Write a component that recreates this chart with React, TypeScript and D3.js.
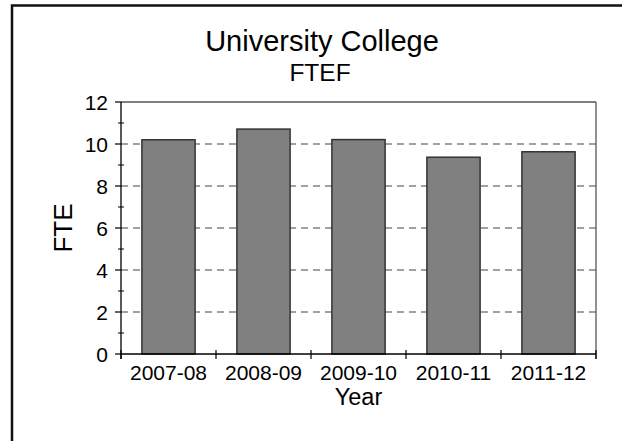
import React from "react";
import * as d3 from "d3";

const categories = ["2007-08", "2008-09", "2009-10", "2010-11", "2011-12"];
const values = [10.2, 10.71, 10.21, 9.37, 9.63];
const yTicks = [0, 2, 4, 6, 8, 10, 12];
const yMinorTicks = [1, 3, 5, 7, 9, 11];
const titleLines = ["University College", "FTEF"];
const xLabel = "Year";
const yLabel = "FTE";

const W = 622;
const H = 441;
const left = 121;
const right = 596;
const top = 102;
const bottom = 354;
const font = "Arial, 'Liberation Sans', Helvetica, sans-serif";

export default function App() {
  const x = d3
    .scaleBand<string>()
    .domain(categories)
    .range([left, right])
    .paddingInner(0.44)
    .paddingOuter(0.22);
  const y = d3.scaleLinear().domain([0, 12]).range([bottom, top]);
  const step = x.step();
  const boundaries = categories.map((c) => (x(c) as number) - (step * 0.44) / 2);
  boundaries.push(right);

  return (
    <svg
      width={W}
      height={H}
      style={{ position: "absolute", left: 0, top: 0, background: "#fff" }}
      fontFamily={font}
    >
      <rect x={0} y={0} width={W} height={H} fill="#fff" />
      {/* outer border */}
      <rect x={12} y={5.5} width={W + 20} height={H + 20} fill="none" stroke="#111" strokeWidth={2.5} />

      {/* title */}
      <text x={322} y={51} textAnchor="middle" fontSize={29} fill="#000">
        {titleLines[0]}
      </text>
      <text x={320} y={81} textAnchor="middle" fontSize={24.5} fill="#000">
        {titleLines[1]}
      </text>

      {/* gridlines */}
      {yTicks
        .filter((t) => t > 0 && t < 12)
        .map((t) => (
          <line
            key={"g" + t}
            x1={left}
            x2={right}
            y1={y(t)}
            y2={y(t)}
            stroke="#444"
            strokeWidth={1.2}
            strokeDasharray="7,5"
          />
        ))}

      {/* frame top/right */}
      <line x1={left} x2={right} y1={top} y2={top} stroke="#555" strokeWidth={1.3} />
      <line x1={right} x2={right} y1={top} y2={bottom + 5} stroke="#555" strokeWidth={1.3} />

      {/* bars */}
      {categories.map((c, i) => (
        <rect
          key={c}
          x={x(c)}
          y={y(values[i])}
          width={x.bandwidth()}
          height={y(0) - y(values[i])}
          fill="#808080"
          stroke="#333"
          strokeWidth={1.5}
        />
      ))}

      {/* y axis */}
      <line x1={left} x2={left} y1={top} y2={bottom + 5} stroke="#000" strokeWidth={1.3} />
      {yTicks.map((t) => (
        <g key={"y" + t}>
          <line x1={left - 6} x2={left} y1={y(t)} y2={y(t)} stroke="#000" strokeWidth={1.2} />
          <text x={108} y={y(t)} dy="0.36em" textAnchor="end" fontSize={21} fill="#000">
            {t}
          </text>
        </g>
      ))}
      {yMinorTicks.map((t) => (
        <line key={"m" + t} x1={left - 3} x2={left + 3} y1={y(t)} y2={y(t)} stroke="#000" strokeWidth={1} />
      ))}

      {/* x axis */}
      <line x1={left} x2={right} y1={bottom} y2={bottom} stroke="#000" strokeWidth={1.3} />
      {boundaries.map((b, i) => (
        <line key={"xt" + i} x1={b} x2={b} y1={bottom - 4} y2={bottom + 5} stroke="#000" strokeWidth={1.2} />
      ))}
      {categories.map((c) => (
        <text
          key={"xl" + c}
          x={(x(c) as number) + x.bandwidth() / 2}
          y={380}
          textAnchor="middle"
          fontSize={21}
          fill="#000"
        >
          {c}
        </text>
      ))}

      {/* axis labels */}
      <text x={358.5} y={405} textAnchor="middle" fontSize={23.5} fill="#000">
        {xLabel}
      </text>
      <text
        transform={`translate(71.5, ${(top + bottom) / 2}) rotate(-90)`}
        textAnchor="middle"
        fontSize={26}
        fill="#000"
      >
        {yLabel}
      </text>
    </svg>
  );
}
